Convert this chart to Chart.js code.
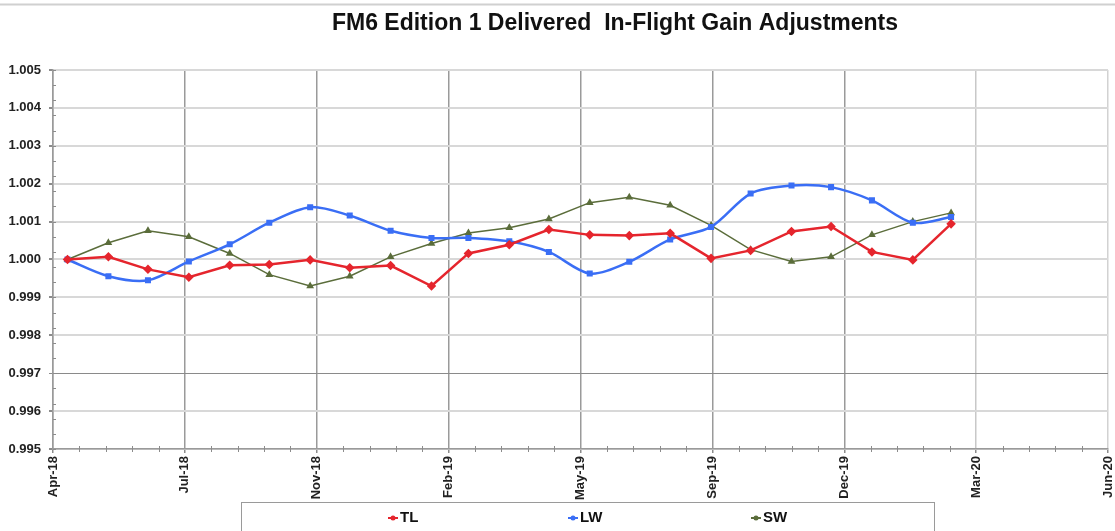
<!DOCTYPE html>
<html><head><meta charset="utf-8">
<script src="https://cdn.jsdelivr.net/npm/chart.js@4.4.1/dist/chart.umd.min.js"></script>
<style>html,body{margin:0;padding:0;background:#fff;} #wrap{width:1115px;height:531px;position:relative;}</style>
</head><body><div id="wrap"><canvas id="c" width="1115" height="531"></canvas></div>
<script>
// ---- data ----
const axisStartDate = '2018-04-20';
const months = ['2018-05-01','2018-06-01','2018-07-01','2018-08-01','2018-09-01','2018-10-01','2018-11-01','2018-12-01',
  '2019-01-01','2019-02-01','2019-03-01','2019-04-01','2019-05-01','2019-06-01','2019-07-01','2019-08-01','2019-09-01',
  '2019-10-01','2019-11-01','2019-12-01','2020-01-01','2020-02-01','2020-03-01'];
const xTickLabels = ['Apr-18','Jul-18','Nov-18','Feb-19','May-19','Sep-19','Dec-19','Mar-20','Jun-20'];
const seriesNames = ['TL','LW','SW'];
const tlValues = [1.0000,1.00007,0.99974,0.99953,0.99985,0.99987,0.99999,0.99978,0.99984,0.99930,1.00016,1.00039,
  1.00079,1.00065,1.00063,1.00069,1.00003,1.00024,1.00074,1.00087,1.00020,0.99999,1.00094];
const lwValues = [1.0000,0.99956,0.99945,0.99995,1.00040,1.00097,1.00138,1.00116,1.00076,1.00057,1.00057,1.00048,
  1.00020,0.99963,0.99994,1.00053,1.00086,1.00174,1.00195,1.00191,1.00156,1.00097,1.00112];
const swValues = [1.0000,1.00044,1.00076,1.00060,1.00016,0.99960,0.99930,0.99956,1.00007,1.00042,1.00070,1.00084,
  1.00107,1.00150,1.00164,1.00143,1.00090,1.00026,0.99995,1.00007,1.00065,1.00100,1.00123];
const titleText = 'FM6 Edition 1 Delivered  In-Flight Gain Adjustments';

// ---- helpers ----
const dayNum = s => { const [y,m,d] = s.split('-').map(Number); return Date.UTC(y,m-1,d)/86400000; };
const x0 = dayNum(axisStartDate);
const pts = vals => months.map((m,i) => ({x: dayNum(m) - x0, y: vals[i]}));

const FONT = "'Liberation Sans', Arial, sans-serif";
const colors = ['#e5252d', '#3a6ef5', '#5b6d3b'];

const decor = {
  id: 'decor',
  beforeDraw(chart) {
    const c = chart.ctx; c.save();
    c.fillStyle = '#fff'; c.fillRect(0,0,chart.width,chart.height);
    c.strokeStyle = '#d0d0d0'; c.lineWidth = 2;
    c.beginPath(); c.moveTo(0,4.5); c.lineTo(chart.width,4.5); c.stroke();
    c.restore();
  },
  afterDraw(chart) {
    const c = chart.ctx, xs = chart.scales.x, ys = chart.scales.y;
    c.save();
    c.strokeStyle = '#8c8c8c'; c.lineWidth = 1;
    // minor x ticks every 20 days
    for (let d = 0; d <= 800; d += 20) {
      if (d % 100 === 0) continue;
      const px = Math.round(xs.getPixelForValue(d)) + 0.5;
      c.beginPath(); c.moveTo(px, ys.bottom - 3); c.lineTo(px, ys.bottom + 3); c.stroke();
    }
    // minor y ticks every 0.0004
    for (let k = 0; k <= 25; k++) {
      const py = Math.round(ys.getPixelForValue(0.995 + k * 0.0004)) + 0.5;
      c.beginPath(); c.moveTo(xs.left, py); c.lineTo(xs.left + 3, py); c.stroke();
    }
    // title
    c.fillStyle = '#111'; c.font = 'bold 23px ' + FONT;
    c.textAlign = 'center'; c.textBaseline = 'middle';
    c.fillText(titleText, 615, 24);
    // legend box
    c.strokeStyle = '#9a9a9a'; c.lineWidth = 1;
    c.strokeRect(241.5, 502.5, 693, 40);
    const lx = [388, 568, 751];
    c.font = 'bold 15px ' + FONT; c.textAlign = 'left';
    chart.data.datasets.forEach((ds, i) => {
      const y = 518;
      c.strokeStyle = ds.borderColor; c.fillStyle = ds.borderColor; c.lineWidth = 2;
      c.beginPath(); c.moveTo(lx[i], y); c.lineTo(lx[i] + 10, y); c.stroke();
      c.beginPath(); c.arc(lx[i] + 5, y, 2.5, 0, Math.PI * 2); c.fill();
      c.fillStyle = '#111';
      c.fillText(ds.label, lx[i] + 12, y);
    });
    c.restore();
  }
};

new Chart(document.getElementById('c'), {
  type: 'line',
  data: {
    datasets: [
      {label: seriesNames[0], data: pts(tlValues), borderColor: colors[0], backgroundColor: colors[0],
       borderWidth: 2.5, pointStyle: 'rectRot', pointRadius: 3, tension: 0},
      {label: seriesNames[1], data: pts(lwValues), borderColor: colors[1], backgroundColor: colors[1],
       borderWidth: 2.5, pointStyle: 'rect', pointRadius: 2.5, tension: 0.3},
      {label: seriesNames[2], data: pts(swValues), borderColor: colors[2], backgroundColor: colors[2],
       borderWidth: 1.5, pointStyle: 'triangle', pointRadius: 3, tension: 0}
    ]
  },
  options: {
    responsive: false, animation: false, devicePixelRatio: 1,
    layout: {padding: {top: 70, left: 0, right: 7, bottom: 0}},
    plugins: {legend: {display: false}, title: {display: false}, tooltip: {enabled: false}},
    elements: {point: {borderWidth: 0, hoverRadius: 3}},
    scales: {
      x: {
        type: 'linear', min: 0, max: 800,
        afterFit: s => { s.height = 82; s.paddingLeft = 0; s.paddingRight = 0; },
        ticks: {stepSize: 100, autoSkip: false, minRotation: 90, maxRotation: 90, padding: 3,
          color: '#222', font: {family: FONT, size: 13, weight: 'bold'},
          callback: (v, i) => xTickLabels[i]},
        grid: {
          color: ctx => ctx.index === 7 ? '#c8c8c8' : (ctx.index === 8 ? '#d2d2d2' : '#9a9a9a'),
          tickColor: '#8c8c8c', lineWidth: 1.5, tickLength: 4, drawTicks: true
        },
        border: {display: true, color: '#9a9a9a', width: 1.5}
      },
      y: {
        min: 0.995, max: 1.005,
        afterFit: s => { s.width = 53; },
        ticks: {stepSize: 0.001, padding: 8, color: '#222', font: {family: FONT, size: 13, weight: 'bold'},
          callback: v => v.toFixed(3)},
        grid: {
          color: ctx => Math.abs(ctx.tick.value - 0.997) < 1e-6 ? '#8a8a8a' : '#d8d8d8',
          lineWidth: ctx => Math.abs(ctx.tick.value - 0.997) < 1e-6 ? 1 : 2,
          tickColor: '#8c8c8c', tickLength: 4, drawTicks: true
        },
        border: {display: true, color: '#9a9a9a', width: 1.5}
      }
    }
  },
  plugins: [decor]
});
</script></body></html>
